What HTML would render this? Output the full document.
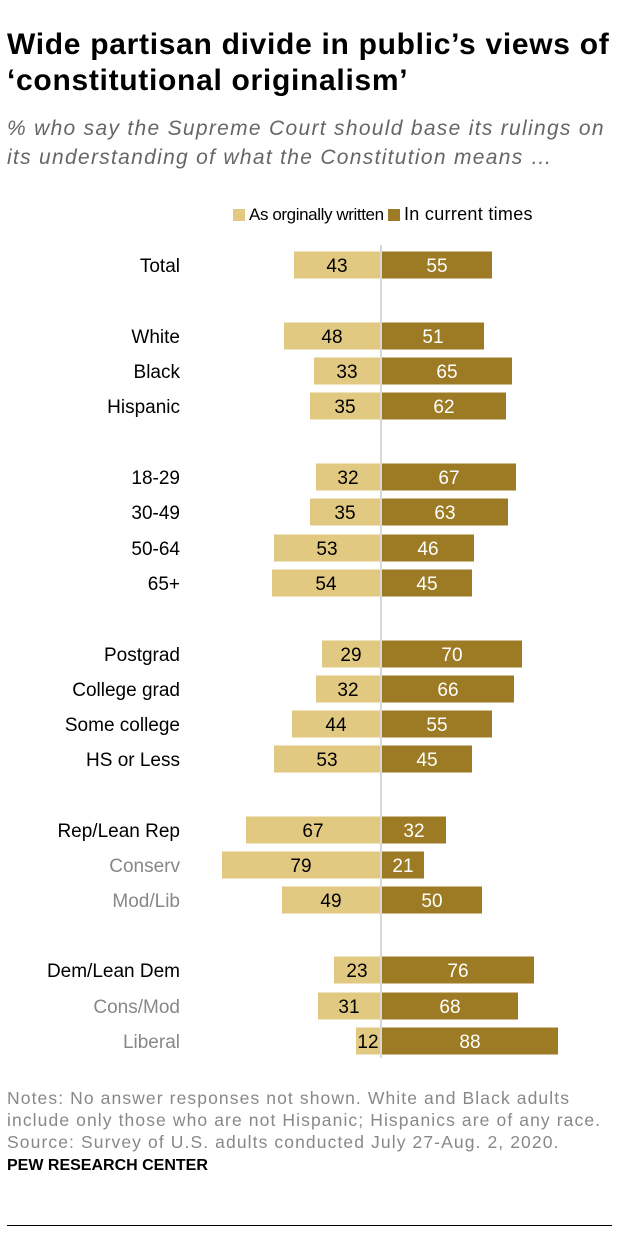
<!DOCTYPE html>
<html><head><meta charset="utf-8"><style>
body{margin:0;background:#fff;font-family:"Liberation Sans",sans-serif;}
#wrap{position:relative;width:620px;height:1238px;overflow:hidden}
.t{position:absolute;white-space:nowrap}
</style></head><body>
<div id="wrap">
<div class="t" style="left:7px;top:27px;font-size:30px;font-weight:bold;line-height:36px;color:#000;letter-spacing:0.7px">Wide partisan divide in public’s views of<br>‘constitutional originalism’</div>
<div class="t" style="left:7px;top:114px;font-size:21px;font-style:italic;color:#666;line-height:29px;letter-spacing:1.3px">% who say the Supreme Court should base its rulings on<br>its understanding of what the Constitution means …</div>
<div style="position:absolute;left:233px;top:209px;width:12px;height:12px;background:#e2c982"></div>
<div class="t" style="left:249px;top:205px;font-size:17px;letter-spacing:-0.4px">As orginally written</div>
<div style="position:absolute;left:388px;top:209px;width:12px;height:12px;background:#9c7b24"></div>
<div class="t" style="left:404px;top:204px;font-size:18px;letter-spacing:0.3px">In current times</div>
<svg id="c" width="620" height="1238" style="position:absolute;left:0;top:0"></svg>
<div class="t" style="left:7px;top:1087px;font-size:17.5px;color:#888;line-height:22px;letter-spacing:1.1px">Notes: No answer responses not shown. White and Black adults<br>include only those who are not Hispanic; Hispanics are of any race.<br>Source: Survey of U.S. adults conducted July 27-Aug. 2, 2020.</div>
<div class="t" style="left:7px;top:1157px;font-size:16px;font-weight:bold;color:#000">PEW RESEARCH CENTER</div>
<div style="position:absolute;left:7px;top:1225px;width:605px;height:1px;background:#000"></div>
</div>
<script>
const categories=["Total","White","Black","Hispanic","18-29","30-49","50-64","65+","Postgrad","College grad","Some college","HS or Less","Rep/Lean Rep","Conserv","Mod/Lib","Dem/Lean Dem","Cons/Mod","Liberal"];
const original=[43,48,33,35,32,35,53,54,29,32,44,53,67,79,49,23,31,12];
const current=[55,51,65,62,67,63,46,45,70,66,55,45,32,21,50,76,68,88];
const subgroup=[0,0,0,0,0,0,0,0,0,0,0,0,0,1,1,0,1,1];
const rowY=[265,336,371,406,477,512,548,583,654,689,724,759,830,865,900,970,1006,1041];
const NS="http://www.w3.org/2000/svg";
const svg=document.getElementById('c');
const cx=381,k=2.0,h=27;
function x(v){return v*k;}
function mk(t,a){const e=document.createElementNS(NS,t);for(const n in a)e.setAttribute(n,a[n]);svg.appendChild(e);return e;}
categories.forEach((c,i)=>{
 const y=rowY[i];
 const l=mk('rect',{x:cx-1-x(original[i]),y:y-h/2,width:x(original[i]),height:h,fill:'#e2c982'});
 
 
 const r=mk('rect',{x:cx+1,y:y-h/2,width:x(current[i]),height:h,fill:'#9c7b24'});
 
 
 const lt=mk('text',{x:cx-1-x(original[i])/2,y:y+7,'text-anchor':'middle','font-size':19,fill:'#000'});
 lt.textContent=original[i];
 
 
 const rt=mk('text',{x:cx+1+x(current[i])/2,y:y+7,'text-anchor':'middle','font-size':19,fill:'#fff'});
 rt.textContent=current[i];
 
 
 const ct=mk('text',{x:180,y:y+7,'text-anchor':'end','font-size':19,fill:subgroup[i]?'#888':'#000'});
 ct.textContent=c;
 
 
});
const ax=mk('line',{x1:cx,x2:cx,y1:245,y2:1058,stroke:'#ccc','stroke-width':1.5});


</script>
</body></html>
